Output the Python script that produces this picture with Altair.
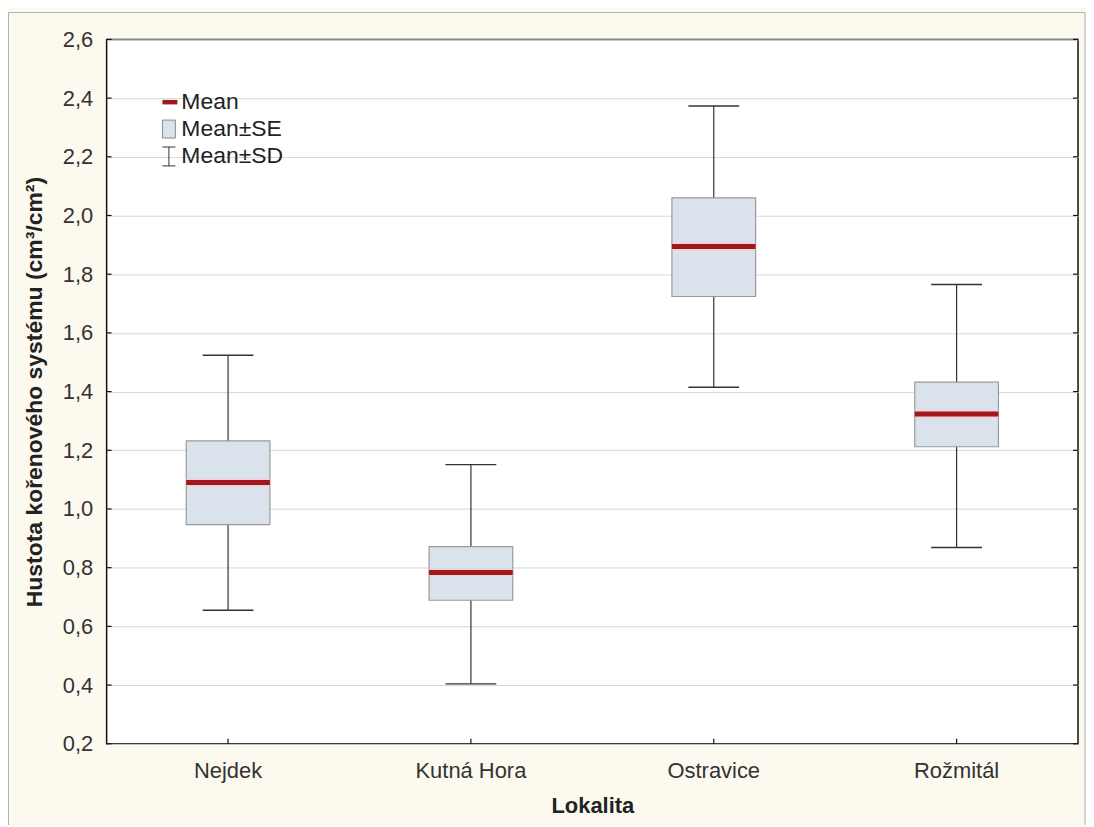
import altair as alt
import pandas as pd

categories = ["Nejdek", "Kutná Hora", "Ostravice", "Rožmitál"]
mean = [1.090, 0.784, 1.894, 1.324]
se_lo = [0.947, 0.689, 1.724, 1.212]
se_hi = [1.232, 0.872, 2.060, 1.432]
sd_lo = [0.655, 0.404, 1.415, 0.869]
sd_hi = [1.524, 1.151, 2.373, 1.765]
y_ticks = [0.2, 0.4, 0.6, 0.8, 1.0, 1.2, 1.4, 1.6, 1.8, 2.0, 2.2, 2.4, 2.6]
legend_labels = ["Mean", "Mean±SE", "Mean±SD"]

W, H = 975, 707

df = pd.DataFrame({"cat": categories, "mean": mean, "se_lo": se_lo, "se_hi": se_hi,
                   "sd_lo": sd_lo, "sd_hi": sd_hi})
ticks_df = pd.DataFrame({"v": y_ticks})
cat_df = pd.DataFrame({"cat": categories})

FONT = "Liberation Sans"
FS = 22

xscale = alt.Scale(domain=categories, paddingInner=0, paddingOuter=0)
yscale = alt.Scale(domain=[0.2, 2.6], nice=False, zero=False)

xenc = alt.X("cat:N", scale=xscale, sort=categories,
             axis=alt.Axis(title="Lokalita", labelAngle=0, ticks=False, grid=False,
                           domain=False, labelPadding=17, labelFontSize=FS,
                           labelColor="#333333", titleFontSize=22, titleFontWeight="bold",
                           titleColor="#222222", titlePadding=14, labelFont=FONT, titleFont=FONT))

yaxis = alt.Axis(title="Hustota kořenového systému (cm³/cm²)", values=y_ticks,
                 ticks=False, domain=False, grid=True, gridColor="#d8d8d8", gridWidth=1,
                 labelPadding=14, labelFontSize=FS, labelColor="#333333",
                 labelExpr="replace(format(datum.value, '.1f'), '.', ',')",
                 titleFontSize=23, titleFontWeight="bold", titleColor="#222222",
                 titleX=-72, titleY=H / 2, titleAngle=-90, titleBaseline="middle",
                 labelFont=FONT, titleFont=FONT)

base = alt.Chart(df)

whisker = base.mark_rule(color="#333333", strokeWidth=1.2).encode(
    x=xenc, y=alt.Y("sd_lo:Q", scale=yscale, axis=yaxis), y2="sd_hi:Q")

box = base.mark_bar(width=84, fill="#dae2ec", stroke="#9a9a9a", strokeWidth=1.2).encode(
    x=alt.X("cat:N", scale=xscale, sort=categories), y=alt.Y("se_lo:Q", scale=yscale), y2="se_hi:Q")

mean_halo = base.mark_tick(size=84, thickness=8, color="#f6c8c8", opacity=0.6).encode(
    x=alt.X("cat:N", scale=xscale, sort=categories), y=alt.Y("mean:Q", scale=yscale))
mean_line = base.mark_tick(size=84, thickness=5, color="#a3161e", opacity=1).encode(
    x=alt.X("cat:N", scale=xscale, sort=categories), y=alt.Y("mean:Q", scale=yscale))

cap_hi = base.mark_tick(size=51, thickness=1.4, color="#333333", opacity=1).encode(
    x=alt.X("cat:N", scale=xscale, sort=categories), y=alt.Y("sd_hi:Q", scale=yscale))
cap_lo = base.mark_tick(size=51, thickness=1.4, color="#333333", opacity=1).encode(
    x=alt.X("cat:N", scale=xscale, sort=categories), y=alt.Y("sd_lo:Q", scale=yscale))

# inward tick marks on the frame
ytick_l = alt.Chart(ticks_df).mark_rule(color="#111111", strokeWidth=1.2).encode(
    y=alt.Y("v:Q", scale=yscale), x=alt.value(0), x2=alt.value(5))
ytick_r = alt.Chart(ticks_df).mark_rule(color="#111111", strokeWidth=1.2).encode(
    y=alt.Y("v:Q", scale=yscale), x=alt.value(W - 5), x2=alt.value(W))
xtick_b = alt.Chart(cat_df).mark_rule(color="#111111", strokeWidth=1.2).encode(
    x=alt.X("cat:N", scale=xscale, sort=categories), y=alt.value(H - 5), y2=alt.value(H))

# legend
leg_df = pd.DataFrame({"label": legend_labels})
leg_mean = alt.Chart(leg_df.iloc[[0]]).mark_rule(color="#a3161e", strokeWidth=4.5).encode(
    x=alt.value(56), x2=alt.value(71), y=alt.value(63))
leg_se = alt.Chart(leg_df.iloc[[1]]).mark_rect(fill="#dae2ec", stroke="#8a8a8a", strokeWidth=1).encode(
    x=alt.value(56), x2=alt.value(69), y=alt.value(81), y2=alt.value(99))
leg_sd_stem = alt.Chart(leg_df.iloc[[2]]).mark_rule(color="#333333", strokeWidth=1).encode(
    x=alt.value(62.5), y=alt.value(108), y2=alt.value(127))
leg_sd_cap1 = alt.Chart(leg_df.iloc[[2]]).mark_rule(color="#333333", strokeWidth=1).encode(
    x=alt.value(56), x2=alt.value(69), y=alt.value(108))
leg_sd_cap2 = alt.Chart(leg_df.iloc[[2]]).mark_rule(color="#333333", strokeWidth=1).encode(
    x=alt.value(56), x2=alt.value(69), y=alt.value(127))
leg_pos = pd.DataFrame({"label": legend_labels, "py": [63, 90, 117]})
leg_text = alt.Chart(leg_pos).mark_text(align="left", baseline="middle", fontSize=23,
                                        font=FONT, color="#222222").encode(
    x=alt.value(75), y=alt.Y("py:Q", scale=None), text="label:N")

# outer frame of the figure
outer = alt.Chart(cat_df.iloc[[0]]).mark_rect(fill=None, stroke="#b0b0b0", strokeWidth=1).encode(
    x=alt.value(-98.5), x2=alt.value(W + 7), y=alt.value(-27), y2=alt.value(H + 100))

chart = alt.layer(
    outer, whisker, box, mean_halo, mean_line, cap_hi, cap_lo,
    ytick_l, ytick_r, xtick_b,
    leg_mean, leg_se, leg_sd_stem, leg_sd_cap1, leg_sd_cap2, leg_text
).properties(
    width=W, height=H,
    autosize=alt.AutoSizeParams(type="none"),
    padding={"left": 99, "top": 30, "right": 8, "bottom": 80},
    background="#fcf9ef",
).configure_view(
    stroke="#111111", strokeWidth=1.5, fill="#ffffff"
)

chart.save("out.html", embed_options={"renderer": "svg", "actions": False})
